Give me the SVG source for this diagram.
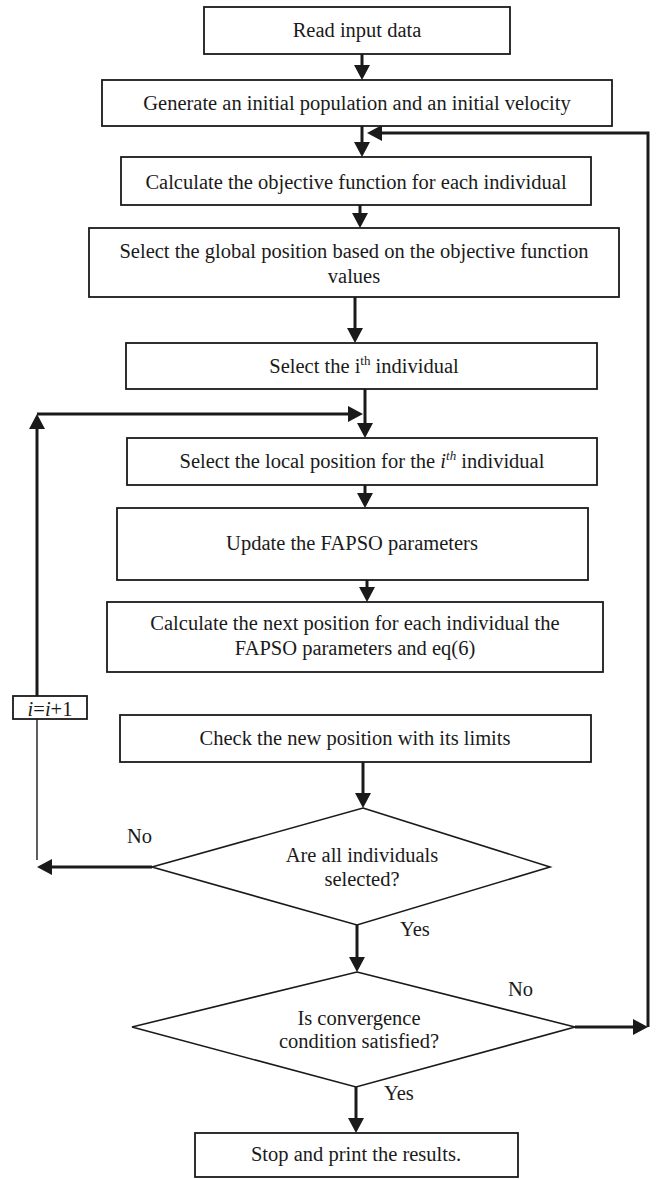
<svg xmlns="http://www.w3.org/2000/svg" width="661" height="1179" viewBox="0 0 661 1179">
<style>
.box{fill:#fff;stroke:#1a1a1a;stroke-width:1.8}
.dia{fill:#fff;stroke:#1a1a1a;stroke-width:1.6}
.t{font-family:"Liberation Serif","Times New Roman",Times,serif;font-size:20.5px;fill:#1a1a1a;text-anchor:middle}
.l{font-family:"Liberation Serif","Times New Roman",Times,serif;font-size:20.5px;fill:#1a1a1a}
.c{fill:none;stroke:#1a1a1a;stroke-width:3}
.thin{fill:none;stroke:#1a1a1a;stroke-width:1.4}
</style>
<defs>
<marker id="ah" markerUnits="userSpaceOnUse" markerWidth="15" markerHeight="16" refX="0" refY="8" orient="auto">
<path d="M0,0 L15,8 L0,16 z" fill="#1a1a1a"/>
</marker>
</defs>

<g id="connectors">
<line class="c" x1="362" y1="54" x2="362" y2="65" marker-end="url(#ah)"/>
<line class="c" x1="362" y1="126" x2="362" y2="142" marker-end="url(#ah)"/>
<line class="c" x1="360" y1="205" x2="360" y2="213" marker-end="url(#ah)"/>
<line class="c" x1="355" y1="297" x2="355" y2="328" marker-end="url(#ah)"/>
<line class="c" x1="365" y1="389" x2="365" y2="423" marker-end="url(#ah)"/>
<line class="c" x1="365" y1="485" x2="365" y2="493" marker-end="url(#ah)"/>
<line class="c" x1="367" y1="580" x2="367" y2="587" marker-end="url(#ah)"/>
<line class="c" x1="363" y1="762" x2="363" y2="793" marker-end="url(#ah)"/>
<line class="c" x1="357" y1="925" x2="357" y2="957" marker-end="url(#ah)"/>
<line class="c" x1="356" y1="1087" x2="356" y2="1118" marker-end="url(#ah)"/>
<line class="c" x1="152" y1="867" x2="52" y2="867" marker-end="url(#ah)"/>
<line class="thin" x1="37" y1="719" x2="37" y2="860"/>
<line class="c" x1="37" y1="696" x2="37" y2="429" marker-end="url(#ah)"/>
<line class="c" x1="37" y1="414" x2="348" y2="414" marker-end="url(#ah)"/>
<line class="c" x1="575" y1="1027" x2="633" y2="1027" marker-end="url(#ah)"/>
<polyline class="c" points="648,1027 648,133 382,133" marker-end="url(#ah)"/>
</g>

<g id="n1"><rect class="box" x="204" y="7" width="306" height="47"/><text class="t" x="357" y="37">Read input data</text></g>
<g id="n2"><rect class="box" x="102" y="80" width="510" height="46"/><text class="t" x="357" y="110">Generate an initial population and an initial velocity</text></g>
<g id="n3"><rect class="box" x="121" y="157" width="470" height="48"/><text class="t" x="356" y="189">Calculate the objective function for each individual</text></g>
<g id="n4"><rect class="box" x="89" y="228" width="530" height="69"/><text class="t" x="354" y="258">Select the global position based on the objective function</text><text class="t" x="354" y="283">values</text></g>
<g id="n5"><rect class="box" x="126" y="343" width="471" height="46"/><text class="t" x="364" y="373">Select the i<tspan dy="-8" font-size="13">th</tspan><tspan dy="8"> individual</tspan></text></g>
<g id="n6"><rect class="box" x="127" y="438" width="470" height="47"/><text class="t" x="362" y="468">Select the local position for the <tspan font-style="italic">i</tspan><tspan dy="-8" font-size="13" font-style="italic">th</tspan><tspan dy="8"> individual</tspan></text></g>
<g id="n7"><rect class="box" x="117" y="508" width="471" height="72"/><text class="t" x="352" y="550">Update the FAPSO parameters</text></g>
<g id="n8"><rect class="box" x="107" y="602" width="496" height="70"/><text class="t" x="355" y="630">Calculate the next position for each individual the</text><text class="t" x="355" y="655">FAPSO parameters and eq(6)</text></g>
<g id="n9"><rect class="box" x="120" y="715" width="471" height="47"/><text class="t" x="355" y="745">Check the new position with its limits</text></g>
<g id="inc"><rect class="box" x="13" y="696" width="74" height="23"/><text class="t" x="50" y="716"><tspan font-style="italic">i</tspan>=<tspan font-style="italic">i</tspan>+1</text></g>
<g id="d1"><polygon class="dia" points="363,808 550,867 357,925 152,867"/><text class="t" x="362" y="862">Are all individuals</text><text class="t" x="362" y="886">selected?</text></g>
<g id="d2"><polygon class="dia" points="357,972 575,1027 356,1087 132,1027"/><text class="t" x="359" y="1025">Is convergence</text><text class="t" x="359" y="1048">condition satisfied?</text></g>
<g id="n10"><rect class="box" x="195" y="1133" width="323" height="44"/><text class="t" x="356" y="1161">Stop and print the results.</text></g>
<g id="labels">
<text class="l" x="127" y="843">No</text>
<text class="l" x="400" y="936">Yes</text>
<text class="l" x="508" y="996">No</text>
<text class="l" x="384" y="1100">Yes</text>
</g>
</svg>
